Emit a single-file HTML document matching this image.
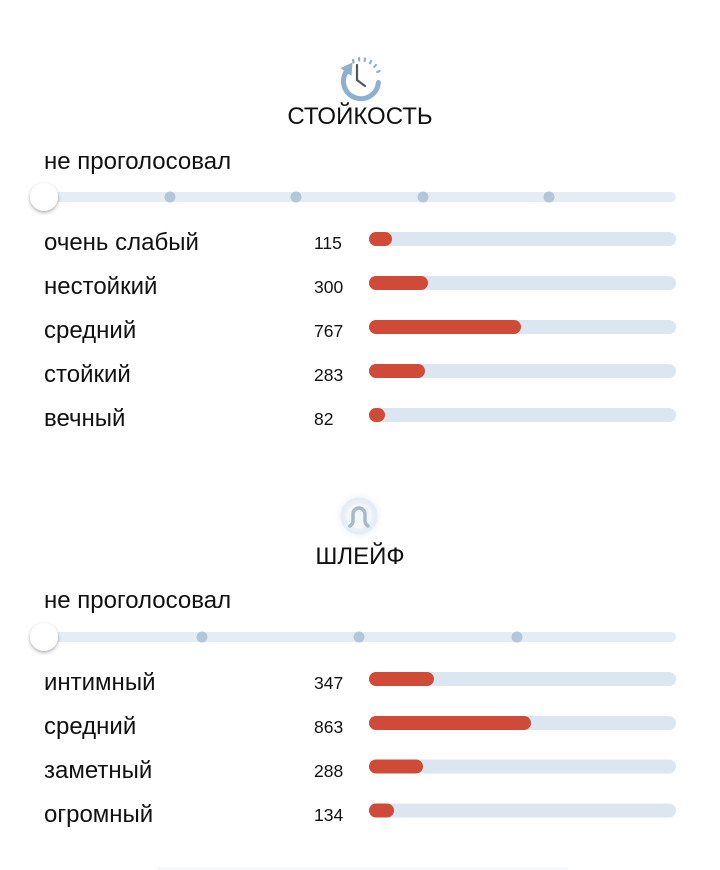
<!DOCTYPE html>
<html><head><meta charset="utf-8"><style>
html,body{margin:0;padding:0;background:#fff;}
svg{display:block;}
text{font-family:"Liberation Sans","DejaVu Sans",sans-serif;fill:#111;}
</style></head><body>
<svg width="720" height="870" viewBox="0 0 720 870" xmlns="http://www.w3.org/2000/svg">
<defs>
<filter id="sh" x="-50%" y="-50%" width="200%" height="200%"><feDropShadow dx="0" dy="1.5" stdDeviation="1.8" flood-color="#000" flood-opacity="0.35"/></filter>
<radialGradient id="halo" cx="0.5" cy="0.5" r="0.5">
<stop offset="0.6" stop-color="#e8eff7" stop-opacity="1"/>
<stop offset="1" stop-color="#f4f8fc" stop-opacity="0"/>
</radialGradient>
</defs>

<!-- Icon 1: clock with arrow -->
<path d="M378.4 82.5 A17.5 17.5 0 1 1 346.7 71" fill="none" stroke="#8eb0cf" stroke-width="5" stroke-linecap="round"/>
<polygon points="340.5,68 351.5,76 352.5,62.5" fill="#8eb0cf"/>
<g stroke="#8eb0cf" stroke-width="2.2" stroke-linecap="round">
<line x1="353" y1="60" x2="353.6" y2="62.5"/>
<line x1="359" y1="58" x2="359.2" y2="60.5"/>
<line x1="365" y1="58.5" x2="364.7" y2="61"/>
<line x1="371" y1="61" x2="370" y2="63.3"/>
<line x1="376" y1="65" x2="374.3" y2="66.8"/>
<line x1="379.5" y1="71" x2="377.3" y2="72"/>
</g>
<polyline points="357,65 357,80 365,86" fill="none" stroke="#555" stroke-width="2.2" stroke-linecap="round" stroke-linejoin="round"/>

<text x="360" y="124" font-size="24" text-anchor="middle">СТОЙКОСТЬ</text>
<text x="44" y="169" font-size="24">не проголосовал</text>

<!-- slider 1 -->
<rect x="44" y="192" width="632" height="10" rx="5" fill="#e4ecf5"/>
<circle cx="170" cy="197" r="5.5" fill="#b2c7db"/>
<circle cx="296" cy="197" r="5.5" fill="#b2c7db"/>
<circle cx="423" cy="197" r="5.5" fill="#b2c7db"/>
<circle cx="549" cy="197" r="5.5" fill="#b2c7db"/>
<circle cx="44" cy="197" r="14" fill="#fff" filter="url(#sh)"/>

<!-- rows section 1 -->
<g font-size="24">
<text x="44" y="250">очень слабый</text>
<text x="44" y="294">нестойкий</text>
<text x="44" y="338">средний</text>
<text x="44" y="382">стойкий</text>
<text x="44" y="426">вечный</text>
</g>
<g font-size="17.5">
<text x="314" y="249">115</text>
<text x="314" y="293">300</text>
<text x="314" y="337">767</text>
<text x="314" y="381">283</text>
<text x="314" y="425">82</text>
</g>
<g fill="#dbe6f1">
<rect x="369" y="232" width="307" height="14" rx="7"/>
<rect x="369" y="276" width="307" height="14" rx="7"/>
<rect x="369" y="320" width="307" height="14" rx="7"/>
<rect x="369" y="364" width="307" height="14" rx="7"/>
<rect x="369" y="408" width="307" height="14" rx="7"/>
</g>
<g fill="#cf4b37">
<rect x="369" y="232" width="23" height="14" rx="7"/>
<rect x="369" y="276" width="59" height="14" rx="7"/>
<rect x="369" y="320" width="152" height="14" rx="7"/>
<rect x="369" y="364" width="56" height="14" rx="7"/>
<rect x="369" y="408" width="16" height="14" rx="7"/>
</g>

<!-- Icon 2 -->
<circle cx="359" cy="516" r="25" fill="url(#halo)"/>
<circle cx="359" cy="516" r="17" fill="none" stroke="#e5ecf4" stroke-width="3"/>
<circle cx="359" cy="516" r="13" fill="#f3f6fa"/>
<path d="M350 526 Q353 524 353 521 L353 514 A6 6 0 0 1 365 514 L365 521 Q365 524 368 526" fill="none" stroke="#a6b8cb" stroke-width="3.5" stroke-linecap="round"/>

<text x="360" y="564" font-size="24" text-anchor="middle">ШЛЕЙФ</text>
<text x="44" y="608" font-size="24">не проголосовал</text>

<!-- slider 2 -->
<rect x="44" y="632" width="632" height="10" rx="5" fill="#e4ecf5"/>
<circle cx="202" cy="637" r="5.5" fill="#b2c7db"/>
<circle cx="359" cy="637" r="5.5" fill="#b2c7db"/>
<circle cx="517" cy="637" r="5.5" fill="#b2c7db"/>
<circle cx="44" cy="637" r="14" fill="#fff" filter="url(#sh)"/>

<g font-size="24">
<text x="44" y="690">интимный</text>
<text x="44" y="734">средний</text>
<text x="44" y="778">заметный</text>
<text x="44" y="822">огромный</text>
</g>
<g font-size="17.5">
<text x="314" y="689">347</text>
<text x="314" y="733">863</text>
<text x="314" y="777">288</text>
<text x="314" y="821">134</text>
</g>
<g fill="#dbe6f1">
<rect x="369" y="672" width="307" height="14" rx="7"/>
<rect x="369" y="716" width="307" height="14" rx="7"/>
<rect x="369" y="759.5" width="307" height="14" rx="7"/>
<rect x="369" y="803.5" width="307" height="14" rx="7"/>
</g>
<g fill="#cf4b37">
<rect x="369" y="672" width="65" height="14" rx="7"/>
<rect x="369" y="716" width="162" height="14" rx="7"/>
<rect x="369" y="759.5" width="54" height="14" rx="7"/>
<rect x="369" y="803.5" width="25" height="14" rx="7"/>
</g>
<rect x="158" y="867" width="410" height="3" fill="#f7f8fa"/>
</svg>
</body></html>
